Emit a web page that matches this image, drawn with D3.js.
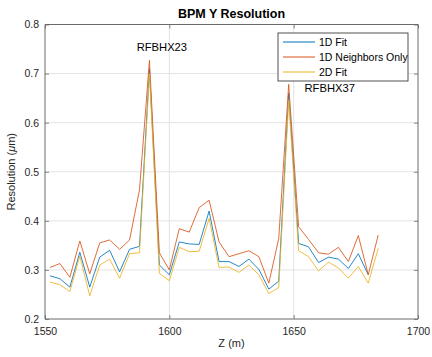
<!DOCTYPE html>
<html><head><meta charset="utf-8">
<script src="https://cdn.jsdelivr.net/npm/d3@7"></script>
<style>body{margin:0;background:#fff}svg{font-family:"Liberation Sans",Arial,sans-serif}</style>
</head><body><svg id="c" width="432" height="357"></svg>
<script>
const z = [1552,1556,1560,1564,1568,1572,1576,1580,1584,1588,1592,1596,1600,1604,1608,1612,1616,1620,1624,1628,1632,1636,1640,1644,1648,1652,1656,1660,1664,1668,1672,1676,1680,1684];
const fit1D = [0.288,0.282,0.265,0.336,0.265,0.326,0.340,0.296,0.342,0.348,0.710,0.310,0.290,0.357,0.353,0.352,0.420,0.317,0.317,0.307,0.322,0.301,0.261,0.277,0.660,0.354,0.347,0.315,0.326,0.322,0.303,0.333,0.290,null];
const neighbors1D = [0.305,0.313,0.285,0.359,0.292,0.355,0.361,0.342,0.361,0.463,0.727,0.335,0.300,0.384,0.377,0.427,0.442,0.357,0.327,0.333,0.339,0.327,0.273,0.364,0.678,0.388,0.362,0.335,0.332,0.346,0.317,0.370,0.290,0.371];
const fit2D = [0.275,0.270,0.256,0.328,0.247,0.310,0.322,0.283,0.333,0.335,0.700,0.293,0.278,0.346,0.337,0.338,0.405,0.305,0.306,0.295,0.310,0.290,0.252,0.264,0.645,0.339,0.327,0.298,0.316,0.304,0.283,0.307,0.273,0.344];
const seriesNames = ["1D Fit","1D Neighbors Only","2D Fit"];
const seriesColors = ["#0072BD","#D95319","#EDB120"];
const xTicks = [1550,1600,1650,1700];
const yTicks = [0.2,0.3,0.4,0.5,0.6,0.7,0.8];
const labels = [{text:"RFBHX23", z:1597, v:0.746},{text:"RFBHX37", z:1664.5, v:0.662}];

const svg = d3.select("#c");
const m = {l:45, r:418, t:24.5, b:319};
const x = d3.scaleLinear().domain([1550,1700]).range([m.l, m.r]);
const y = d3.scaleLinear().domain([0.2,0.8]).range([m.b, m.t]);
const ax = "#262626";

// grid
svg.append("g").selectAll("line").data(xTicks.slice(1,-1)).join("line")
  .attr("x1",d=>x(d)).attr("x2",d=>x(d)).attr("y1",m.t).attr("y2",m.b)
  .attr("stroke","#e3e3e3").attr("stroke-width",1);
svg.append("g").selectAll("line").data(yTicks.slice(1,-1)).join("line")
  .attr("y1",d=>y(d)).attr("y2",d=>y(d)).attr("x1",m.l).attr("x2",m.r)
  .attr("stroke","#e3e3e3").attr("stroke-width",1);

// lines
const data = [fit1D, neighbors1D, fit2D];
const line = d3.line().defined(d=>d!=null).x((d,i)=>x(z[i])).y(d=>y(d));
data.forEach((s,k)=>{
  svg.append("path").datum(s).attr("d",line).attr("fill","none")
    .attr("stroke",seriesColors[k]).attr("stroke-width",0.85).attr("stroke-linejoin","miter");
});

// axes
const xa = svg.append("g").attr("transform",`translate(0,${m.b})`)
  .call(d3.axisBottom(x).tickValues(xTicks).tickSize(-4).tickPadding(9).tickFormat(d3.format("d")));
const xt = svg.append("g").attr("transform",`translate(0,${m.t})`)
  .call(d3.axisTop(x).tickValues(xTicks).tickSize(-4).tickFormat(""));
const ya = svg.append("g").attr("transform",`translate(${m.l},0)`)
  .call(d3.axisLeft(y).tickValues(yTicks).tickSize(-4).tickPadding(6).tickFormat(d3.format(".1f")));
const yr = svg.append("g").attr("transform",`translate(${m.r},0)`)
  .call(d3.axisRight(y).tickValues(yTicks).tickSize(-4).tickFormat(""));
[xa,xt,ya,yr].forEach(g=>{
  g.selectAll("path").attr("stroke","#6a6a6a").attr("stroke-width",1);
  g.selectAll("line").attr("stroke","#6a6a6a").attr("stroke-width",0.8);
  g.selectAll("text").attr("fill",ax).attr("font-size",10.5).attr("font-family","Liberation Sans, Arial, sans-serif");
});
xa.select(".domain").attr("d",`M${m.l},0H${m.r}`);
ya.select(".domain").attr("d",`M0,${m.b}V${m.t}`);
xt.select(".domain").attr("d",`M${m.l},0H${m.r}`);
yr.select(".domain").attr("d",`M0,${m.b}V${m.t}`);

// title & labels
svg.append("text").attr("x",(m.l+m.r)/2).attr("y",18).attr("text-anchor","middle")
  .attr("font-weight","bold").attr("font-size",12.5).attr("fill","#000").text("BPM Y Resolution");
svg.append("text").attr("x",(m.l+m.r)/2).attr("y",347).attr("text-anchor","middle")
  .attr("font-size",11).attr("fill",ax).text("Z (m)");
const yl = svg.append("text").attr("transform",`translate(15,${(m.t+m.b)/2}) rotate(-90)`)
  .attr("text-anchor","middle").attr("font-size",11).attr("fill",ax);
yl.append("tspan").text("Resolution (");
yl.append("tspan").attr("font-style","italic").text("μ");
yl.append("tspan").text("m)");

// annotations
svg.append("g").selectAll("text").data(labels).join("text")
  .attr("x",d=>x(d.z)).attr("y",d=>y(d.v)).attr("text-anchor","middle")
  .attr("font-size",11.2).attr("fill","#000").text(d=>d.text);

// legend
const lg = svg.append("g").attr("transform","translate(278,33)");
lg.append("rect").attr("width",130).attr("height",48).attr("fill","#fff").attr("stroke",ax).attr("stroke-width",0.8);
seriesNames.forEach((n,k)=>{
  const yy = 9 + k*15;
  lg.append("line").attr("x1",5).attr("x2",37).attr("y1",yy).attr("y2",yy)
    .attr("stroke",seriesColors[k]).attr("stroke-width",1);
  lg.append("text").attr("x",41).attr("y",yy+3.8).attr("font-size",10.5).attr("fill","#000").text(n);
});
</script></body></html>
